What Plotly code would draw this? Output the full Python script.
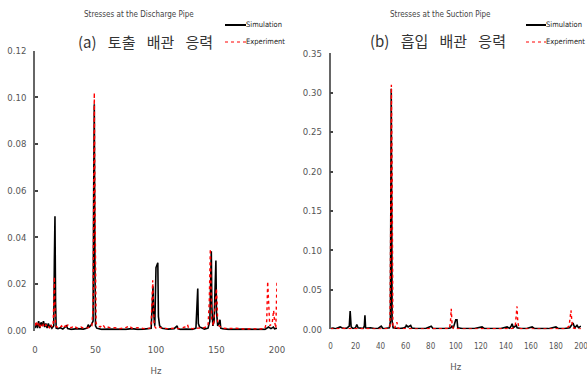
import plotly.graph_objects as go

# ---------------- data ----------------
# (a) Discharge pipe
dis_sim_hz = [0, 1, 2, 3, 4, 5, 6, 7, 8, 9, 10, 11, 12, 13, 14, 15.5, 16, 16.5, 17, 17.5,
              19, 21, 23, 25, 26, 27, 30, 35, 40, 43, 44, 45, 46, 47, 48, 48.5, 49, 49.5, 50, 51,
              55, 60, 65, 70, 75, 80, 85, 90, 95, 96, 97, 97.5, 98, 99, 100, 101, 101.5, 102, 103,
              105, 110, 115, 117, 117.5, 118, 120, 125, 130, 133, 134, 134.5, 135, 136, 140, 143,
              144.5, 145.3, 145.7, 146.2, 147, 148, 149, 149.5, 150, 151, 152, 152.9, 153.5, 155,
              160, 165, 170, 175, 180, 185, 190, 193, 195, 197, 198, 200]
dis_sim_val = [0.001, 0.003, 0.001, 0.004, 0.001, 0.0035, 0.002, 0.004, 0.0015, 0.003, 0.001, 0.003,
               0.0015, 0.002, 0.001, 0.002, 0.030, 0.049, 0.012, 0.001,
               0.0008, 0.0012, 0.0006, 0.0015, 0.002, 0.0008, 0.0005, 0.0008, 0.0006, 0.001, 0.0025,
               0.0015, 0.002, 0.003, 0.004, 0.060, 0.097, 0.030, 0.002, 0.001,
               0.0005, 0.0006, 0.0005, 0.0007, 0.0005, 0.0008, 0.0005, 0.0006, 0.0008, 0.001, 0.012,
               0.019, 0.008, 0.002, 0.027, 0.029, 0.029, 0.006, 0.002,
               0.001, 0.0006, 0.0008, 0.0015, 0.002, 0.0008, 0.0005, 0.0006, 0.0005, 0.001, 0.012,
               0.018, 0.003, 0.0015, 0.0006, 0.001,
               0.004, 0.025, 0.034, 0.010, 0.002, 0.004, 0.022, 0.030, 0.008, 0.002, 0.003, 0.0046,
               0.001, 0.0008,
               0.0005, 0.0006, 0.0005, 0.0006, 0.0005, 0.0006, 0.0005, 0.0015, 0.0008, 0.0015,
               0.0007, 0.001]

dis_exp_hz = [0, 1, 2, 3, 4, 5, 6, 7, 8, 9, 10, 11, 12, 13, 14, 15, 15.5, 16, 16.5, 17, 18, 20,
              22, 23, 24, 25, 26, 27, 28, 30, 32, 35, 38, 40, 44, 46, 47, 48, 48.5, 49, 49.5, 50,
              50.5, 52, 54, 56, 58, 60, 63, 66, 70, 75, 78, 80, 85, 90, 95, 96, 96.5, 97.3, 98,
              98.5, 100, 102, 105, 110, 115, 120, 124, 126, 127, 130, 135, 140, 143, 144, 144.9,
              145.5, 146, 147.5, 149, 149.9, 150.5, 151, 152, 155, 160, 165, 170, 175, 180, 185,
              190, 191.5, 192.3, 193, 194, 196, 197.2, 198, 199, 200]
dis_exp_val = [0.002, 0.004, 0.002, 0.003, 0.001, 0.0025, 0.0015, 0.003, 0.002, 0.0025, 0.0015,
               0.002, 0.001, 0.0025, 0.0015, 0.003, 0.012, 0.023, 0.010, 0.002, 0.0015, 0.001,
               0.002, 0.001, 0.0015, 0.002, 0.001, 0.0025, 0.0015, 0.0012, 0.002, 0.001, 0.0015,
               0.001, 0.0012, 0.002, 0.002, 0.010, 0.060, 0.102, 0.060, 0.010,
               0.003, 0.002, 0.0015, 0.0025, 0.001, 0.0015, 0.001, 0.0012, 0.0008, 0.0012, 0.002,
               0.001, 0.0012, 0.0008, 0.001, 0.003, 0.015, 0.0215, 0.010,
               0.002, 0.001, 0.0015, 0.001, 0.0008, 0.001, 0.0008, 0.0015, 0.0025, 0.001, 0.0008,
               0.001, 0.0012, 0.002, 0.012, 0.035,
               0.020, 0.005, 0.002, 0.010, 0.018, 0.012, 0.003, 0.002, 0.001, 0.0008, 0.001,
               0.0008, 0.0006, 0.0008, 0.0006,
               0.0008, 0.004, 0.021, 0.010, 0.002, 0.003, 0.0086, 0.004, 0.001, 0.021]

# (b) Suction pipe
suc_sim_hz = [0, 2, 4, 6, 7.7, 9, 11, 13, 15, 15.7, 16.5, 18, 20, 21, 22, 24, 26, 27, 27.5, 28,
              30, 32, 35, 38, 40.5, 42, 45, 47, 47.8, 48.5, 49.2, 50, 52, 55, 58, 60, 60.5, 62,
              64, 65, 68, 72, 76, 80.4, 82, 86, 90, 94, 96, 97, 98, 100, 101, 101.6, 105, 110,
              115, 121, 123, 128, 132, 136, 141, 143, 144.5, 145, 146, 148.3, 149, 152, 156, 161,
              163, 168, 174, 180, 182, 187, 191, 193.6, 195, 196.8, 198, 200]
suc_sim_val = [0.001, 0.0015, 0.0008, 0.002, 0.003, 0.002, 0.001, 0.0015, 0.004, 0.023, 0.003,
               0.001, 0.002, 0.006, 0.002, 0.0015, 0.001, 0.004, 0.0178, 0.002,
               0.0015, 0.002, 0.001, 0.001, 0.004, 0.0008, 0.001, 0.002, 0.010, 0.305, 0.010,
               0.002, 0.0015, 0.001, 0.0015, 0.003, 0.005, 0.003,
               0.005, 0.0015, 0.001, 0.0008, 0.001, 0.004, 0.0008, 0.001, 0.0008, 0.001, 0.002,
               0.004, 0.0015, 0.012, 0.012, 0.002, 0.001, 0.0008,
               0.001, 0.003, 0.0008, 0.001, 0.0008, 0.001, 0.003, 0.001, 0.005, 0.007, 0.002,
               0.005, 0.002, 0.001, 0.0008, 0.003,
               0.0008, 0.001, 0.0008, 0.003, 0.0008, 0.001, 0.002, 0.008, 0.002, 0.005, 0.002,
               0.004]

suc_exp_hz = [0, 3, 6, 10, 15, 20, 25, 30, 35, 40, 45, 47.5, 48, 48.6, 49.2, 49.8, 51, 53, 54,
              60, 70, 80, 90, 95, 95.8, 96.4, 97, 98, 105, 115, 125, 135, 145, 147.5, 148.3,
              148.9, 149.5, 150.5, 160, 170, 180, 188, 190.5, 191.2, 192, 192.7, 193.5, 196, 200]
suc_exp_val = [0.0005, 0.0008, 0.0005, 0.001, 0.0008, 0.0006, 0.0008, 0.0005, 0.0007, 0.0005,
               0.0008, 0.003, 0.120, 0.310, 0.200, 0.005, 0.001, 0.009, 0.001,
               0.0006, 0.0005, 0.0007, 0.0005, 0.001, 0.010, 0.026, 0.008, 0.0008, 0.0005,
               0.0006, 0.0005, 0.0006, 0.0008, 0.004, 0.015,
               0.029, 0.010, 0.0008, 0.0005, 0.0006, 0.0005, 0.0007, 0.004, 0.012, 0.024, 0.010,
               0.002, 0.0006, 0.0005]

dis_y_ticks = [0.00, 0.02, 0.04, 0.06, 0.08, 0.10, 0.12]
suc_y_ticks = [0.00, 0.05, 0.10, 0.15, 0.20, 0.25, 0.30, 0.35]
dis_x_ticks = [0, 50, 100, 150, 200]
suc_x_ticks = [0, 20, 40, 60, 80, 100, 120, 140, 160, 180, 200]
series_names = ["Simulation", "Experiment"]

# ---------------- figure ----------------
NARROW = "DejaVu Sans Condensed, Liberation Sans, sans-serif"
KFONT = "Noto Sans CJK KR, sans-serif"
W, H = 587, 376


def px_x(p):
    return p / W


def px_y(p):
    return 1 - p / H


fig = go.Figure()

sim_line = dict(color="black", width=1.6)
exp_line = dict(color="#ff0000", width=1.4, dash="dot")

fig.add_trace(go.Scatter(x=dis_sim_hz, y=dis_sim_val, mode="lines", name=series_names[0],
                         line=sim_line, xaxis="x", yaxis="y", showlegend=False))
fig.add_trace(go.Scatter(x=dis_exp_hz, y=dis_exp_val, mode="lines", name=series_names[1],
                         line=exp_line, xaxis="x", yaxis="y", showlegend=False))
fig.add_trace(go.Scatter(x=suc_sim_hz, y=suc_sim_val, mode="lines", name=series_names[0],
                         line=sim_line, xaxis="x2", yaxis="y2", showlegend=False))
fig.add_trace(go.Scatter(x=suc_exp_hz, y=suc_exp_val, mode="lines", name=series_names[1],
                         line=exp_line, xaxis="x2", yaxis="y2", showlegend=False))

GRAY = "#555"

yax_common = dict(showgrid=False, zeroline=False, showline=True, linecolor="#666", linewidth=1.5,
                  ticks="inside", ticklen=3, tickcolor="#444", tickwidth=1.5,
                  tickformat=".2f", automargin=False, fixedrange=True, ticklabelstandoff=5,
                  tickfont=dict(family=NARROW, size=9.5, color=GRAY))
xax_common = dict(showgrid=False, zeroline=False, showline=False, ticks="",
                  automargin=False, fixedrange=True, ticklabeloverflow="allow",
                  title_font=dict(family=NARROW, size=9.5, color=GRAY))

fig.update_layout(
    width=W, height=H, autosize=False,
    margin=dict(l=0, r=0, t=0, b=0, pad=0),
    paper_bgcolor="white", plot_bgcolor="white",
    showlegend=False,
    xaxis=dict(domain=[px_x(35), px_x(277)], range=[0, 200], tickvals=dis_x_ticks,
               anchor="y", title=dict(text="Hz", standoff=14), ticklabelstandoff=12,
               tickfont=dict(family=NARROW, size=9.5, color=GRAY), **xax_common),
    yaxis=dict(domain=[px_y(330.5), px_y(50.7)], range=[0, 0.12], tickvals=dis_y_ticks,
               anchor="x", **yax_common),
    xaxis2=dict(domain=[px_x(330.5), px_x(581)], range=[0, 200], tickvals=suc_x_ticks,
                anchor="y2", title=dict(text="Hz", standoff=13), ticklabelstandoff=11,
                tickfont=dict(family=NARROW, size=8, color=GRAY), **xax_common),
    yaxis2=dict(domain=[px_y(329.3), px_y(53.3)], range=[0, 0.35], tickvals=suc_y_ticks,
                anchor="x2", **yax_common),
)

title_small = dict(family=NARROW, size=8, color="#444")
title_kr = dict(family=KFONT, size=15, color="#333")
legend_font = dict(family=NARROW, size=7.5, color="#222")
GAP = "\u2002\u2005"

fig.add_annotation(text="Stresses at the Discharge Pipe", x=px_x(139), y=px_y(15),
                   xref="paper", yref="paper", showarrow=False, font=title_small,
                   xanchor="center", yanchor="middle")
fig.add_annotation(text=f"(a){GAP}토출{GAP}배관{GAP}응력", x=px_x(145), y=px_y(41),
                   xref="paper", yref="paper", showarrow=False, font=title_kr,
                   xanchor="center", yanchor="middle")
fig.add_annotation(text="Stresses at the Suction Pipe", x=px_x(440), y=px_y(15),
                   xref="paper", yref="paper", showarrow=False, font=title_small,
                   xanchor="center", yanchor="middle")
fig.add_annotation(text=f"(b){GAP}흡입{GAP}배관{GAP}응력", x=px_x(438), y=px_y(40),
                   xref="paper", yref="paper", showarrow=False, font=title_kr,
                   xanchor="center", yanchor="middle")

# legends (one per panel), drawn as key lines + labels
for x0, x1 in [(225, 246), (526, 546)]:
    for row_y, name, line in [(25, series_names[0], sim_line), (42, series_names[1], exp_line)]:
        is_sim = name == series_names[0]
        fig.add_shape(type="line", xref="paper", yref="paper",
                      x0=px_x(x0), x1=px_x(x1), y0=px_y(row_y), y1=px_y(row_y),
                      line=dict(color=line["color"], width=2.0 if is_sim else 1.0,
                                dash="solid" if is_sim else "dot"))
        fig.add_annotation(text=name, x=px_x(x1), y=px_y(row_y), xref="paper", yref="paper",
                           showarrow=False, font=legend_font, xanchor="left", yanchor="middle",
                           borderpad=0, xshift=-1)

fig.write_html("out.html", config={"displayModeBar": False},
               post_script="document.body.style.margin='0';")
